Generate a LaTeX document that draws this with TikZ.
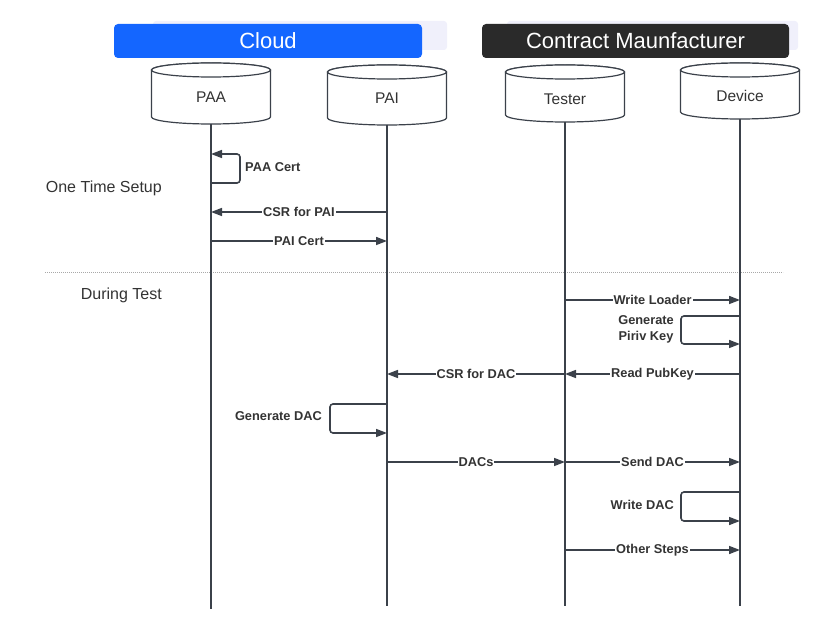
\documentclass[tikz,border=0pt]{standalone}
\usepackage{fontspec}
\setmainfont{Liberation Sans}
\usetikzlibrary{arrows.meta}
\definecolor{linec}{HTML}{3B414A}
\definecolor{cloudblue}{HTML}{1466FF}
\definecolor{cmdark}{HTML}{2A2A2A}
\definecolor{shadowc}{HTML}{F0F0FB}
\definecolor{labc}{HTML}{333333}
\definecolor{dotc}{HTML}{A8A8A8}

\newcommand\mycyl[6]{%
  \path[cylline] (#2-59.5,#3) -- (#2-59.5,#4) arc[start angle=180,end angle=360,x radius=59.5pt,y radius=7pt] -- (#2+59.5,#3) arc[start angle=0,end angle=180,x radius=59.5pt,y radius=7pt] -- cycle;
  \draw[cylline] (#2,#3) ellipse[x radius=59.5pt,y radius=7pt];
  \node[cyltext] (#1) at (#2,#5) {#6};
  \coordinate (#1-bot) at (#2,#4-7);
}

\begin{document}
\begin{tikzpicture}[x=1pt,y=1pt,
  cylline/.style={draw=linec, line width=1.2pt, fill=white},
  cyltext/.style={text=labc, font=\fontsize{15.5}{18}\selectfont, inner sep=0pt},
  life/.style={draw=linec, line width=1.6pt},
  msg/.style={draw=linec, line width=1.6pt, -{Triangle[length=11pt,width=8pt]}},
  mlab/.style={fill=white, inner sep=1pt, text=labc, font=\bfseries\fontsize{12.8}{15}\selectfont},
  slab/.style={text=labc, font=\bfseries\fontsize{12.8}{16}\selectfont, align=center, anchor=east, inner sep=1pt},
  phase/.style={text=labc, font=\fontsize{16}{19}\selectfont, anchor=east, inner sep=0pt},
  banner/.style={rounded corners=4pt, text=white, font=\fontsize{22}{26}\selectfont, minimum height=34pt, inner sep=0pt},
  bshadow/.style={fill=shadowc, rounded corners=3pt},
  dotline/.style={draw=dotc, line width=0.8pt, dash pattern=on 0.8pt off 1.2pt}]

\useasboundingbox (0,0) rectangle (823,633);

% banners
\fill[bshadow] (153,583) rectangle (447,612);
\node[banner, fill=cloudblue, minimum width=308pt] (cloud) at (268,592) {Cloud};
\fill[bshadow] (507,583) rectangle (798,612);
\node[banner, fill=cmdark, minimum width=307pt] (cm) at (635.5,592) {Contract Maunfacturer};

% phase separator
\coordinate (sepL) at (45,361);
\coordinate (sepR) at (783,361);
\draw[dotline] (sepL) -- (sepR);
\node[phase] (p1) at (162,445) {One Time Setup};
\node[phase] (p2) at (162,338) {During Test};

% participants
\mycyl{paa}{211}{563}{516}{536}{PAA}
\mycyl{pai}{387}{561}{515}{535}{PAI}
\mycyl{tester}{565}{561}{518}{534}{Tester}
\mycyl{device}{740}{563}{521}{537}{Device}

% lifelines
\coordinate (paa-end) at (211,24);
\coordinate (pai-end) at (387,27);
\coordinate (tester-end) at (565,27);
\coordinate (device-end) at (740,27);
\draw[life] (paa-bot) -- (paa-end);
\draw[life] (pai-bot) -- (pai-end);
\draw[life] (tester-bot) -- (tester-end);
\draw[life] (device-bot) -- (device-end);

% one time setup
\draw[msg, rounded corners=3pt] (paa |- 0,450) -- (240,450) -- (240,479) -- (paa |- 0,479);
\node[slab, anchor=west] (l1) at (244,466) {PAA Cert};
\draw[msg] (pai |- 0,421) -- node[mlab] (l2) {CSR for PAI} (paa |- 0,421);
\draw[msg] (paa |- 0,392) -- node[mlab] (l3) {PAI Cert} (pai |- 0,392);

% during test
\draw[msg] (tester |- 0,333) -- node[mlab] (l4) {Write Loader} (device |- 0,333);
\draw[msg, rounded corners=3pt] (device |- 0,317) -- (681,317) -- (681,289) -- (device |- 0,289);
\node[slab] (l5) at (675,304) {Generate\\Piriv Key};
\draw[msg] (device |- 0,259) -- node[mlab] (l6) {Read PubKey} (tester |- 0,259);
\draw[msg] (tester |- 0,259) -- node[mlab] (l7) {CSR for DAC} (pai |- 0,259);
\draw[msg, rounded corners=3pt] (pai |- 0,229) -- (330,229) -- (330,200) -- (pai |- 0,200);
\node[slab] (l8) at (323,217) {Generate DAC};
\draw[msg] (pai |- 0,171) -- node[mlab] (l9) {DACs} (tester |- 0,171);
\draw[msg] (tester |- 0,171) -- node[mlab] (l10) {Send DAC} (device |- 0,171);
\draw[msg, rounded corners=3pt] (device |- 0,141) -- (681,141) -- (681,112) -- (device |- 0,112);
\node[slab] (l11) at (675,128) {Write DAC};
\draw[msg] (tester |- 0,83) -- node[mlab] (l12) {Other Steps} (device |- 0,83);
\end{tikzpicture}
\end{document}
